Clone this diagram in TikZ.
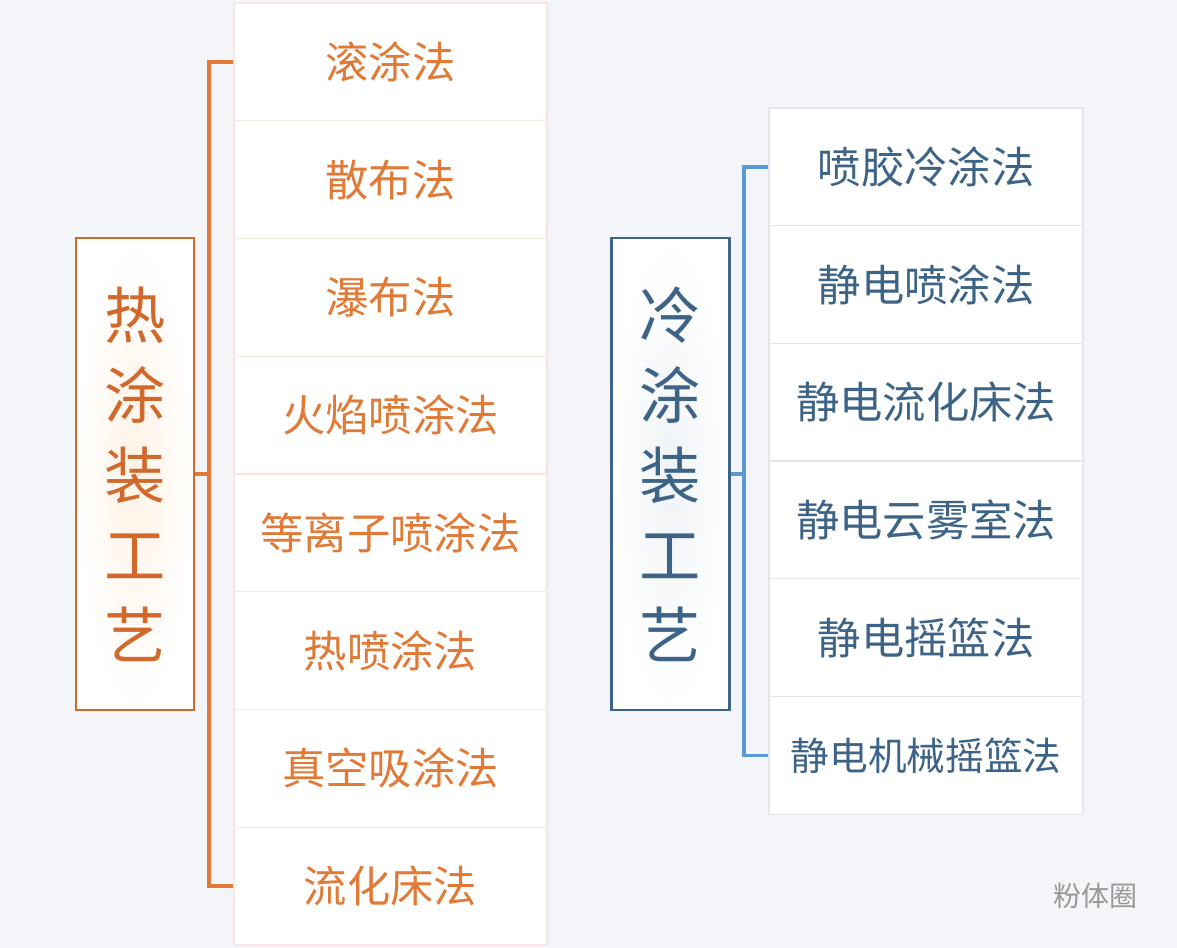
\documentclass[tikz,border=0pt]{standalone}
\usepackage{fontspec}
\newfontfamily\cjk{Noto Sans CJK SC}
\definecolor{bg}{HTML}{F3F5F8}
\definecolor{org}{HTML}{E07A36}
\definecolor{orgd}{HTML}{D2692C}
\definecolor{blu}{HTML}{3D6486}
\definecolor{blul}{HTML}{5B9BD5}
\definecolor{pinkb}{HTML}{F8E6E0}
\definecolor{grayb}{HTML}{E3E7EC}
\tikzset{
 lbox/.style={draw=pinkb,line width=1pt,fill=white,minimum width=313*0.75pt,minimum height=117.7*0.75pt,text=org,font=\cjk\fontsize{32.5}{34}\selectfont},
 rbox/.style={draw=grayb,line width=1pt,fill=white,minimum width=314*0.75pt,minimum height=117.7*0.75pt,text=blu,font=\cjk\fontsize{32.5}{34}\selectfont},
 big/.style={line width=2.2pt,minimum width=118*0.75pt,minimum height=472*0.75pt,align=center,font=\cjk\fontsize{46}{60}\selectfont},
}
\begin{document}
\begin{tikzpicture}[x=0.75pt,y=-0.75pt]
\fill[bg] (0,0) rectangle (1177,948);
\useasboundingbox (0,0) rectangle (1177,948);
\foreach \t [count=\i] in {滚涂法,散布法,瀑布法,火焰喷涂法,等离子喷涂法,热喷涂法,真空吸涂法,流化床法}
  \node[lbox] (l\i) at (390.5,{3+117.75*(\i-0.5)}) {\t};
\foreach \t [count=\i] in {喷胶冷涂法,静电喷涂法,静电流化床法,静电云雾室法,静电摇篮法}
  \node[rbox] (r\i) at (926,{108+117.7*(\i-0.5)}) {\t};
\node[rbox,font=\cjk\fontsize{29}{32}\selectfont] (r6) at (926,{108+117.7*5.5}) {静电机械摇篮法};
\node[big,draw=orgd,text=orgd,inner color=orange!10,outer color=white,shading=radial] (L) at (135,474) {热\\涂\\装\\工\\艺};
\node[big,draw=blu,text=blu,inner color=blu!8,outer color=white,shading=radial] (R) at (670.5,474) {冷\\涂\\装\\工\\艺};
\draw[org,line width=2.5pt] (l1.west) -| (209,474) |- (l8.west);
\draw[org,line width=2.5pt] (L.east) -- (209,474);
\draw[blul,line width=2.5pt] (r1.west) -| (744,474) |- (r6.west);
\draw[blul,line width=2.5pt] (R.east) -- (744,474);
\node[text=gray!80,font=\cjk\fontsize{21}{22}\selectfont] (w) at (1095,896) {粉体圈};
\end{tikzpicture}
\end{document}
